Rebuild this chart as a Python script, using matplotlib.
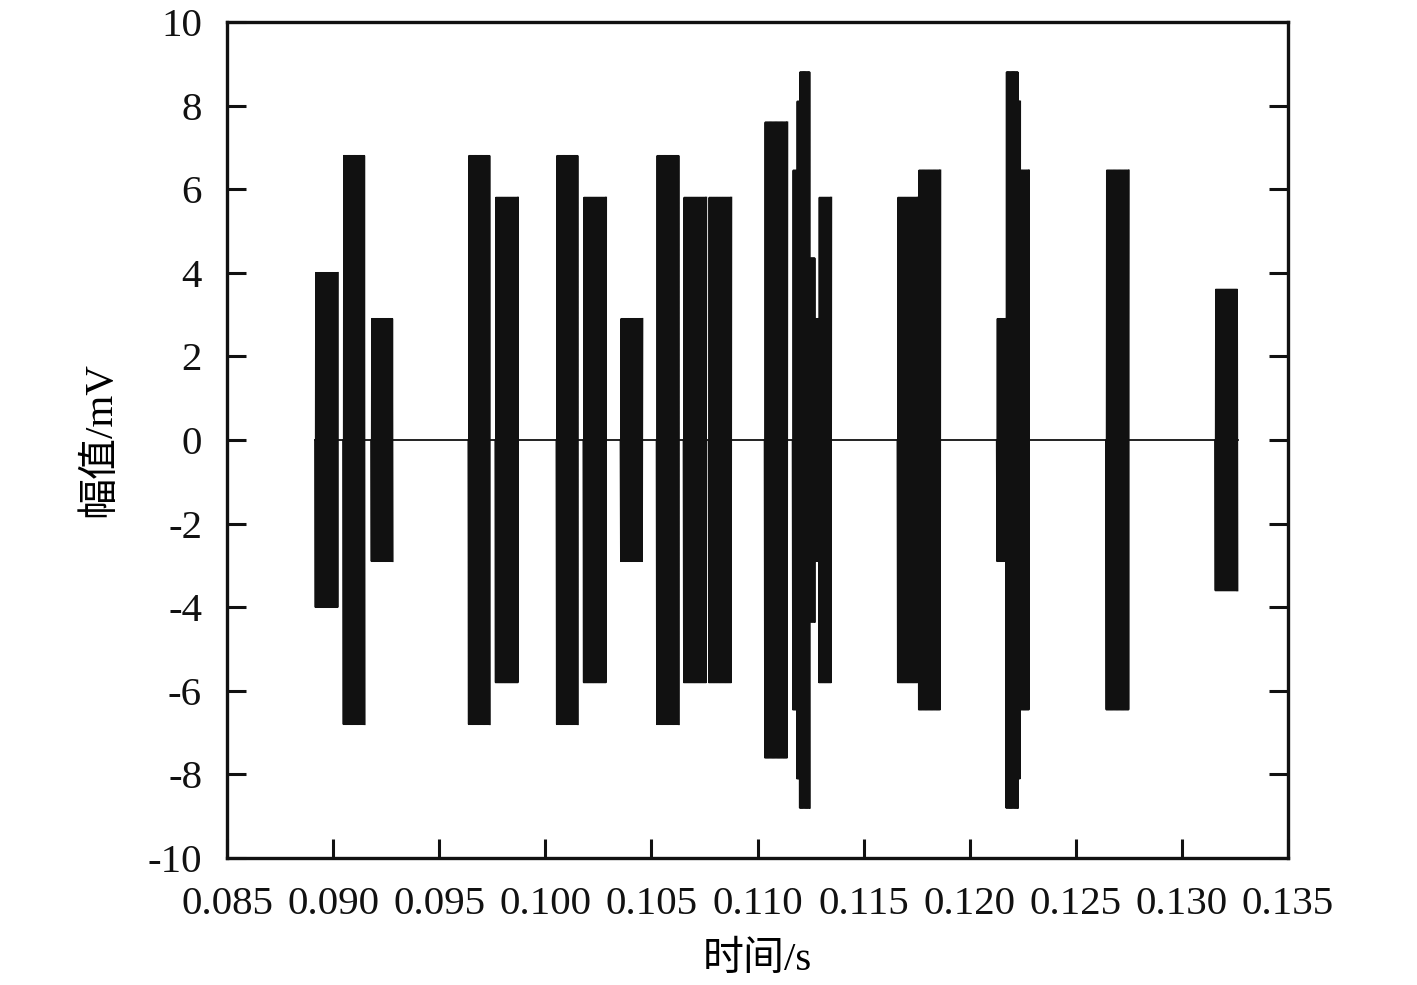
import numpy as np
import matplotlib
matplotlib.use("Agg")
import matplotlib.pyplot as plt

plt.rcParams['font.family'] = ['Liberation Serif', 'Noto Sans CJK SC']
plt.rcParams['axes.unicode_minus'] = False

# bursts: start time [s], end time [s], amplitude [mV]
burst_start = [0.08915, 0.09047, 0.09179, 0.09637, 0.09764, 0.10052, 0.10179,
               0.10354, 0.10524, 0.10651, 0.10769, 0.11033,
               0.11165, 0.11184, 0.11197, 0.11245, 0.11269, 0.11288,
               0.11659, 0.11758,
               0.12127, 0.12170, 0.12226, 0.12236,
               0.12642, 0.13156]
burst_end = [0.09024, 0.09151, 0.09283, 0.09741, 0.09873, 0.10156, 0.10288,
             0.10458, 0.10632, 0.10759, 0.10877, 0.11142,
             0.11189, 0.11198, 0.11248, 0.11271, 0.11290, 0.11349,
             0.11756, 0.11863,
             0.12172, 0.12229, 0.12238, 0.12280,
             0.12751, 0.13263]
burst_amp = [4.0, 6.8, 2.9, 6.8, 5.8, 6.8, 5.8,
             2.9, 6.8, 5.8, 5.8, 7.6,
             6.45, 8.1, 8.8, 4.35, 2.9, 5.8,
             5.8, 6.45,
             2.9, 8.8, 8.1, 6.45,
             6.45, 3.6]

half_cycle = 2.0e-5  # carrier half period, s

fig = plt.figure(figsize=(14.17, 9.85), dpi=100)
ax = fig.add_axes([0.1602, 0.1289, 0.7488, 0.8488])

col = '#111111'
ax.plot([burst_start[0], burst_end[-1]], [0, 0], color=col, lw=1.3)
for t0, t1, a in zip(burst_start, burst_end, burst_amp):
    t = np.arange(t0, t1, half_cycle)
    y = np.where(np.arange(len(t)) % 2 == 0, a, -a)
    y[0] = 0
    ax.plot(t, y, color=col, lw=1.2)

ax.set_xlim(0.085, 0.135)
ax.set_ylim(-10, 10)
ax.set_xticks(np.arange(0.085, 0.1351, 0.005))
ax.set_xticklabels(['%.3f' % v for v in np.arange(0.085, 0.1351, 0.005)])
ax.set_yticks(np.arange(-10, 11, 2))

for s in ax.spines.values():
    s.set_linewidth(2.4)
    s.set_color('#111111')
ax.tick_params(direction='in', length=13.5, width=2.2, colors='#111111',
               labelsize=29.5, top=False, right=True)
ax.tick_params(axis='x', pad=20)
ax.tick_params(axis='y', pad=18)

ax.set_xlabel('时间/s', fontsize=29.5, labelpad=14)
ax.set_ylabel('幅值/mV', fontsize=29.5, labelpad=20)

fig.savefig('out.png', dpi=100)
